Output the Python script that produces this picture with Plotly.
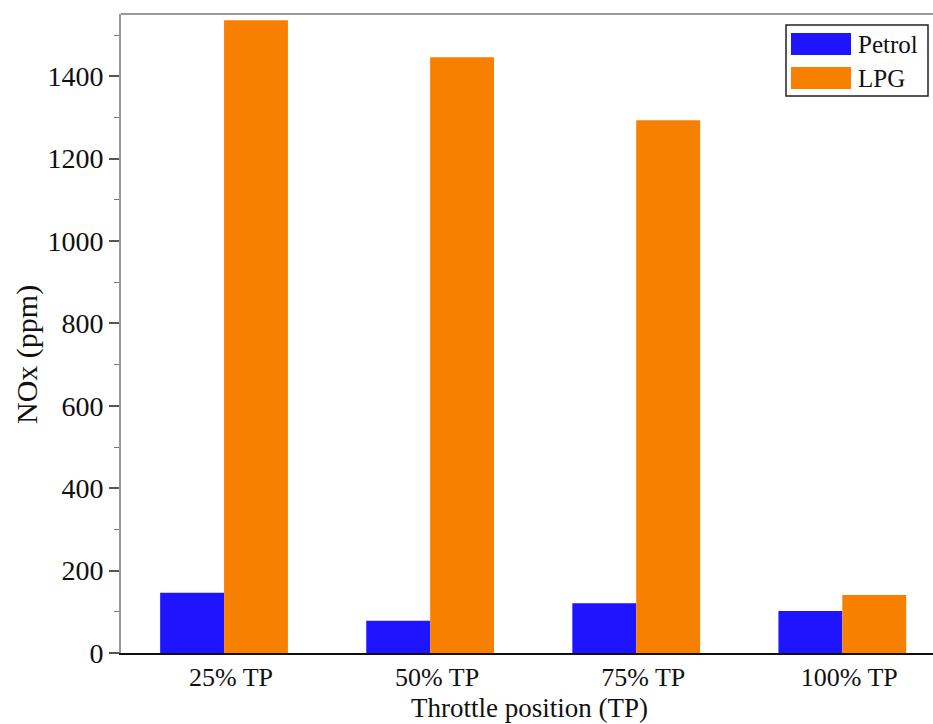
import plotly.graph_objects as go

categories = ["25% TP", "50% TP", "75% TP", "100% TP"]
petrol = [146, 78, 121, 102]
lpg = [1536, 1446, 1293, 141]
y_ticks = [0, 200, 400, 600, 800, 1000, 1200, 1400]
series_names = ["Petrol", "LPG"]
series_colors = ["#1f14ff", "#f78000"]

font_family = "Liberation Serif"

fig = go.Figure()
for name, vals, col in zip(series_names, [petrol, lpg], series_colors):
    fig.add_trace(go.Bar(x=categories, y=vals, name=name,
                         marker=dict(color=col, line=dict(width=0))))

# pixel -> paper helpers (plot area: x 121..933, y 14..653)
L, R, T, B = 121, 933, 14, 653
def px(x):
    return (x - L) / (R - L)
def py(y):
    return (B - y) / (B - T)

shapes = [dict(type="line", xref="paper", yref="paper", x0=0, x1=1, y0=1, y1=1,
               line=dict(color="#999", width=2)),
          dict(type="rect", xref="paper", yref="paper", x0=px(786), x1=px(928),
               y0=py(96), y1=py(25), line=dict(color="#222", width=1.5), fillcolor="white")]
annotations = []
for i, (name, col) in enumerate(zip(series_names, series_colors)):
    top = 33 + i * 34
    shapes.append(dict(type="rect", xref="paper", yref="paper", x0=px(791), x1=px(851),
                       y0=py(top + 22), y1=py(top), line=dict(width=0), fillcolor=col))
    annotations.append(dict(text=name, xref="paper", yref="paper", x=px(856), y=py(top + 11),
                            xanchor="left", yanchor="middle", showarrow=False,
                            font=dict(family=font_family, size=25, color="#111")))

annotations.append(dict(text="NOx (ppm)", xref="paper", yref="paper", x=px(27), y=py(355),
                        xanchor="center", yanchor="middle", textangle=-90, showarrow=False,
                        font=dict(family=font_family, size=30, color="#111")))
annotations.append(dict(text="Throttle position (TP)", xref="paper", yref="paper", x=px(529), y=py(708),
                        xanchor="center", yanchor="middle", showarrow=False,
                        font=dict(family=font_family, size=27, color="#111")))

fig.update_layout(
    width=933, height=724,
    margin=dict(l=L, r=0, t=T, b=724 - B),
    paper_bgcolor="white", plot_bgcolor="white",
    barmode="group", bargap=0.38, bargroupgap=0,
    font=dict(family=font_family, size=26, color="#111"),
    showlegend=False,
    xaxis=dict(range=[-0.5, 3.44], showline=True, linecolor="#111", linewidth=2,
               ticks="", showgrid=False, zeroline=False, ticklabelshift=7,
               tickfont=dict(family=font_family, size=26)),
    yaxis=dict(range=[0, 1551], showline=True, linecolor="#999", linewidth=2,
               ticks="outside", ticklen=10, tickwidth=1.5, tickcolor="#555",
               tickvals=y_ticks,
               minor=dict(ticks="outside", ticklen=5, tickwidth=1.2, tickcolor="#777", dtick=100, showgrid=False),
               showgrid=False, zeroline=False,
               tickfont=dict(family=font_family, size=28)),
    shapes=shapes,
    annotations=annotations,
)

fig.write_html("out.html")
